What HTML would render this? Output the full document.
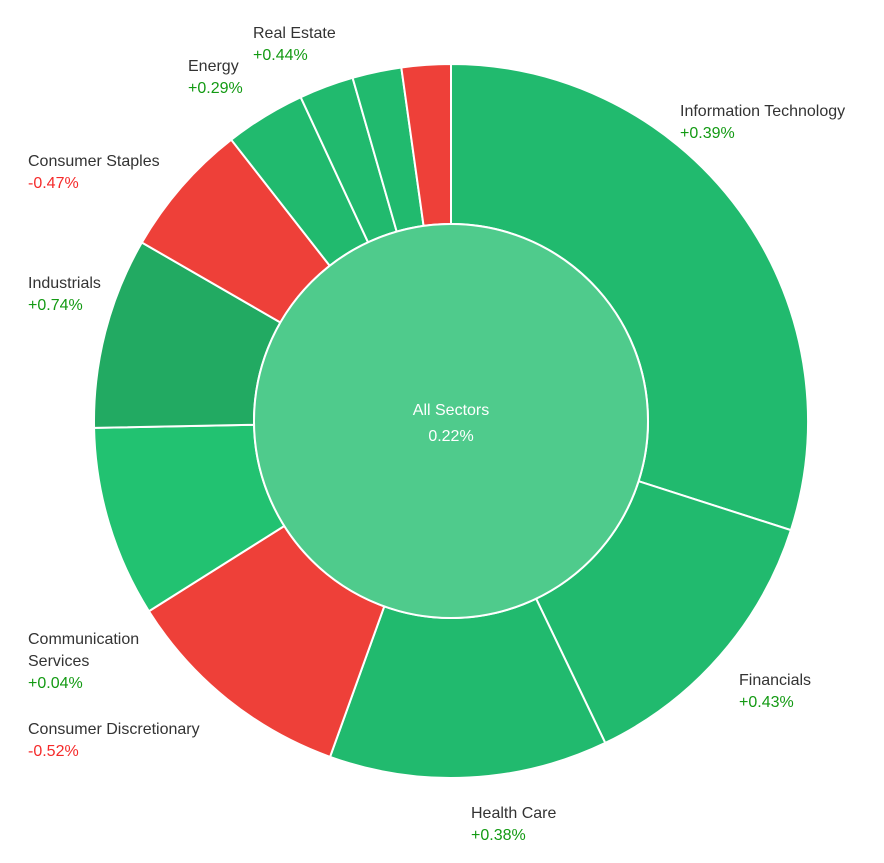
<!DOCTYPE html>
<html><head><meta charset="utf-8">
<style>
html,body{margin:0;padding:0;background:#fff;}
svg{display:block;font-family:"Liberation Sans",Arial,sans-serif;}
.n{fill:#333;font-size:16px;}
.up{fill:#139a13;font-size:16px;}
.dn{fill:#f52a2a;font-size:16px;}
</style></head>
<body>
<svg id="chart" width="884" height="863" viewBox="0 0 884 863">
<g id="slices"></g>
<circle cx="451" cy="421" r="197" fill="#4fcb8c" stroke="#fff" stroke-width="2"/>
<text x="451" y="415" text-anchor="middle" fill="#fff" font-size="16">All Sectors</text>
<text x="451" y="441" text-anchor="middle" fill="#fff" font-size="16">0.22%</text>
<g id="labels"></g>
</svg>
<script>
const sectors = ["Information Technology","Financials","Health Care","Consumer Discretionary","Communication Services","Industrials","Consumer Staples","Energy","Real Estate","Utilities","Materials"];
const weights = [107.8,46.6,45.4,38,31.1,31.1,22,13.1,8.9,8,8];
const changes = [0.39,0.43,0.38,-0.52,0.04,0.74,-0.47,0.29,0.44,0.21,-0.31];
const labelX = [680,739,471,28,28,28,28,188,253,null,null];
const labelY = [116,685,818,734,644,288,166,71,38,null,null];

const cx=451, cy=421, R=357, r=197;
const NS="http://www.w3.org/2000/svg";
const total = weights.reduce((a,b)=>a+b,0);
function pt(a,rad){const t=a*Math.PI/180;return [cx+rad*Math.sin(t), cy-rad*Math.cos(t)];}
function color(c,i){ if(c<0) return "#ee4039"; if(c>0.6) return "#22aa62"; if(c<0.1) return "#22c271"; return "#21ba6e"; }
const gs=document.getElementById('slices'), gl=document.getElementById('labels');
let acc=0;
weights.forEach((w,i)=>{
  const a0=acc/total*360, a1=(acc+w)/total*360; acc+=w;
  const [x0,y0]=pt(a0,R),[x1,y1]=pt(a1,R),[x2,y2]=pt(a1,r),[x3,y3]=pt(a0,r);
  const lg=(a1-a0)>180?1:0;
  const p=document.createElementNS(NS,'path');
  p.setAttribute('d',`M${x0},${y0}A${R},${R} 0 ${lg} 1 ${x1},${y1}L${x2},${y2}A${r},${r} 0 ${lg} 0 ${x3},${y3}Z`);
  p.setAttribute('fill',color(changes[i],i));
  p.setAttribute('stroke','#fff');p.setAttribute('stroke-width','2');
  
  
  gs.appendChild(p);
  if(labelX[i]!==null){
    const lines = sectors[i]==="Communication Services"?["Communication","Services"]:[sectors[i]];
    lines.forEach((l,k)=>{
      const t=document.createElementNS(NS,'text');
      t.setAttribute('x',labelX[i]);t.setAttribute('y',labelY[i]+k*22);t.setAttribute('class','n');
      t.textContent=l;
      
      
      gl.appendChild(t);
    });
    const v=document.createElementNS(NS,'text');
    v.setAttribute('x',labelX[i]);v.setAttribute('y',labelY[i]+lines.length*22);
    v.setAttribute('class',changes[i]<0?'dn':'up');
    v.textContent=(changes[i]>=0?'+':'')+changes[i].toFixed(2)+'%';
    
    
    gl.appendChild(v);
  }
});
</script>
</body></html>
